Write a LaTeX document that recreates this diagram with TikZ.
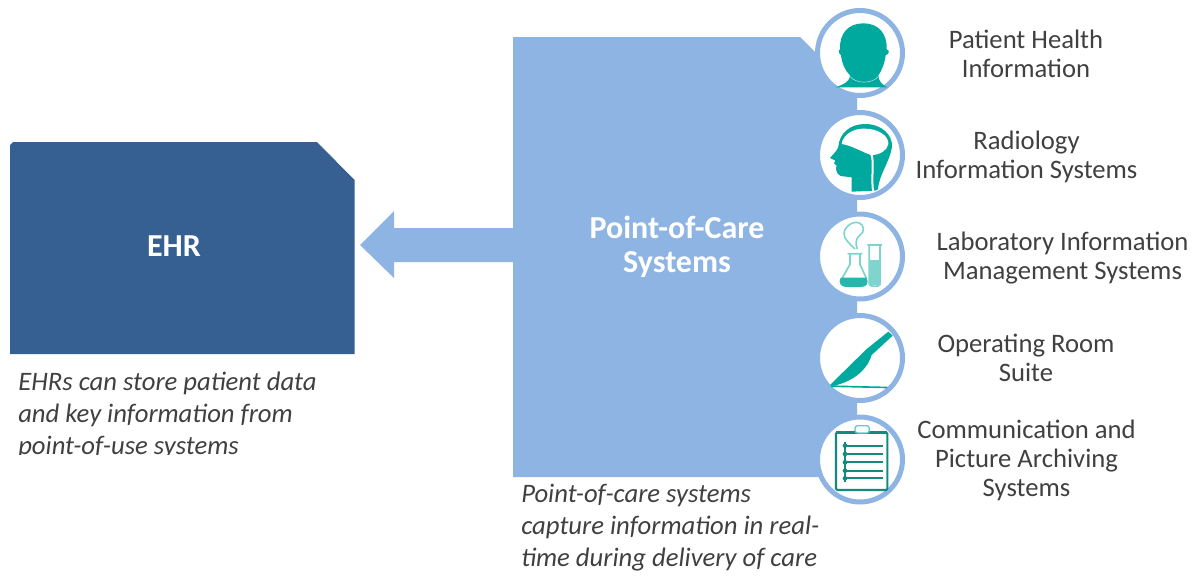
\documentclass[tikz,border=0pt]{standalone}
\usepackage{fontspec}
\setmainfont{Carlito}
\definecolor{ptblue}{HTML}{8EB4E3}
\definecolor{ehrblue}{HTML}{376092}
\definecolor{teal2}{HTML}{00A99D}
\definecolor{tealdark}{HTML}{16897F}
\definecolor{teallight}{HTML}{7FD4CD}
\definecolor{txt}{HTML}{404040}
\tikzset{
  ring/.style={circle,draw=ptblue,line width=3.75pt,fill=white,minimum size=63.75pt,inner sep=0pt},
  lab/.style={align=center,text=txt,font=\fontsize{20}{21.75}\selectfont,inner sep=0pt},
  note/.style={align=left,text=txt,font=\fontsize{20}{24}\selectfont\itshape,inner sep=0pt,anchor=north west},
  head/.style={align=center,text=white,font=\fontsize{24}{25.5}\selectfont\bfseries,inner sep=0pt},
  zoom1/.style={shift={(800,0)},x=0.25pt,y=-0.25pt},
  zoom2/.style={shift={(800,205)},x=0.25pt,y=-0.25pt},
  zoom3/.style={shift={(800,305)},x=0.25pt,y=-0.25pt},
}
\begin{document}
\begin{tikzpicture}[x=0.75pt,y=-0.75pt]
\useasboundingbox (0,0) rectangle (1196,575);
% bodies
\fill[ehrblue] (10,354) -- (10,145) -- (13,142) -- (317,142) -- (354.5,180) -- (354.5,354) -- cycle;
\fill[ptblue] (513,477) -- (513,37) -- (800,37) -- (857,94) -- (857,477) -- cycle;
\fill[ptblue] (513,228) -- (394,228) -- (394,211) -- (360,245) -- (394,278) -- (394,262) -- (513,262) -- cycle;
% texts
\node[head] (ehr) at (174,246) {EHR};
\node[head] (poc) at (677,247) {Point-of-Care\\Systems};
\node[note] (n1) at (18,372) {EHRs can store patient data\\and key information from\\point-of-use systems};
\fill[white] (0,455) rectangle (340,470);
\node[note] (n2) at (521,484) {Point-of-care systems\\capture information in real-\\time during delivery of care};
% rings
\node[ring] (c1) at (860,53) {};
\node[ring] (c2) at (860,155) {};
\node[ring] (c3) at (860,256.5) {};
\node[ring] (c4) at (860,358) {};
\node[ring] (c5) at (860,459.5) {};
% labels
\node[lab] (l1) at (1026,53.5) {Patient Health\\Information};
\node[lab] (l2) at (1026.5,157) {Radiology\\Information Systems};
\node[lab] (l3) at (1062.5,258) {Laboratory Information\\Management Systems};
\node[lab] (l4) at (1026,358) {Operating Room\\Suite};
\node[lab] (l5) at (1026.5,460) {Communication and\\Picture Archiving\\Systems};
% head icon
\begin{scope}[zoom1]
\fill[teal2] (108,262) .. controls (130,252) and (148,248) .. (150,226)
  .. controls (135,212) and (126,190) .. (123,166) .. controls (116,160) and (114,150) .. (120,148)
  .. controls (118,100) and (145,70) .. (190,70) .. controls (235,70) and (262,100) .. (260,148)
  .. controls (270,150) and (268,162) .. (257,166) .. controls (254,190) and (245,212) .. (235,226)
  .. controls (236,246) and (248,254) .. (262,262) -- cycle;
\draw[white,line width=0.4pt,opacity=.7] (150,230) .. controls (170,252) and (215,252) .. (235,230);
% brain icon
\fill[teal2] (115,440) .. controls (118,400) and (150,372) .. (195,372)
  .. controls (245,372) and (278,405) .. (276,440) .. controls (268,490) and (238,520) .. (234,568)
  -- (226,572) -- (155,575) -- (155,532) -- (122,528) .. controls (108,522) and (106,505) .. (110,497)
  -- (102,490) -- (106,482) -- (90,474) .. controls (100,462) and (112,452) .. (115,440) -- cycle;
\fill[white] (125,432) .. controls (128,405) and (160,384) .. (195,386)
  .. controls (235,386) and (267,408) .. (265,432) .. controls (262,452) and (238,464) .. (216,466)
  .. controls (190,458) and (155,436) .. (125,432) -- cycle;
\draw[white,line width=1.5pt] (214,462) .. controls (224,490) and (212,535) .. (220,577);
\end{scope}
% lab icon
\begin{scope}[zoom2]
\draw[teallight,line width=1.2pt] (165,132) .. controls (150,118) and (130,100) .. (132,85)
  .. controls (132,70) and (148,55) .. (165,52) .. controls (182,50) and (196,65) .. (188,82)
  .. controls (180,92) and (160,100) .. (172,132);
\draw[teallight,line width=1.3pt] (143,146) -- (187,146) (150,146) -- (150,178) -- (125,222) (180,146) -- (180,178) -- (200,222);
\fill[teal2!85!white] (122,218) -- (199,218) .. controls (208,232) and (200,246) .. (185,246) -- (138,246) .. controls (122,246) and (114,232) .. (122,218) -- cycle;
\draw[teallight,line width=1.3pt] (202,120) -- (246,120) (208,120) -- (208,238) .. controls (208,246) and (240,246) .. (240,238) -- (240,120);
\fill[teallight] (210,165) rectangle (238,240);
\end{scope}
\begin{scope}[zoom3]
\fill[teal2] (90,240) -- (200,132) -- (265,80) -- (278,92) -- (215,150)
  .. controls (205,185) and (170,228) .. (98,243) -- cycle;
\fill[teal2] (92,241) -- (262,245) -- (262,250) -- (92,246) -- cycle;
\draw[tealdark,line width=1.6pt,rounded corners=1pt] (108,382) rectangle (262,555);
\fill[tealdark] (108,378) rectangle (262,388);
\fill[white,draw=teal2!60!white,line width=1pt,rounded corners=2pt] (165,362) rectangle (208,384);
\draw[tealdark,line width=1.8pt] (135,412) -- (135,530);
\foreach \yy in {422,447,472,497,520}{
  \draw[tealdark,line width=1.7pt] (130,\yy) -- (248,\yy);
  \fill[tealdark] (135,\yy) circle [radius=7];
}
\end{scope}
\end{tikzpicture}
\end{document}
